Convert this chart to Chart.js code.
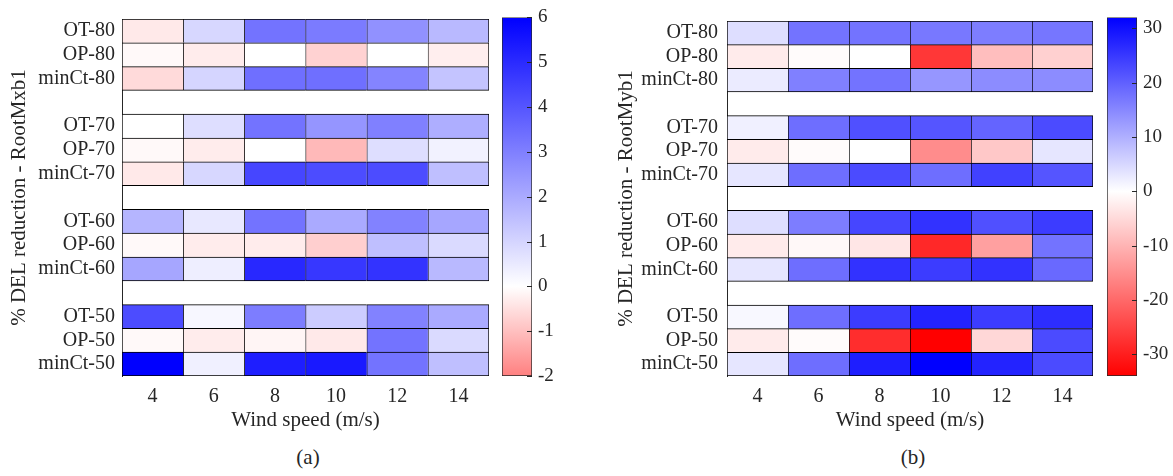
<!DOCTYPE html>
<html>
<head>
<meta charset="utf-8">
<script src="https://cdn.jsdelivr.net/npm/chart.js@4"></script>
<style>
  body { margin: 0; background: #fff; width: 1173px; height: 476px; position: relative; overflow: hidden;
         font-family: "Liberation Serif", serif; color: #262626; }
  canvas { position: absolute; top: 0; }
  .cap { position: absolute; top: 445px; width: 100px; text-align: center; font-size: 21px; }
</style>
</head>
<body>
<canvas id="hmA" width="495" height="440" style="left:0"></canvas>
<canvas id="cbA" width="80" height="440" style="left:495px"></canvas>
<canvas id="hmB" width="500" height="440" style="left:600px"></canvas>
<canvas id="cbB" width="73" height="440" style="left:1100px"></canvas>
<div class="cap" style="left:258px">(a)</div>
<div class="cap" style="left:863px">(b)</div>
<script>
const windSpeeds = [4, 6, 8, 10, 12, 14];
const rowLabels = ['OT-80', 'OP-80', 'minCt-80', 'OT-70', 'OP-70', 'minCt-70',
                   'OT-60', 'OP-60', 'minCt-60', 'OT-50', 'OP-50', 'minCt-50'];

// RootMxb1, one array per wind speed, rows in rowLabels order
const mxWs4  = [-0.35, -0.1, -0.58, 0, -0.1, -0.35, 1.75, -0.1, 2.1, 4.2, -0.1, 6.0];
const mxWs6  = [0.95, -0.3, 1.0, 0.78, -0.3, 0.95, 0.55, -0.3, 0.4, 0.2, -0.3, 0.35];
const mxWs8  = [3.3, 0, 3.4, 3.3, 0, 4.35, 3.3, -0.3, 5.05, 3.05, -0.15, 5.3];
const mxWs10 = [3.1, -0.7, 3.4, 2.5, -1.1, 4.2, 2.0, -0.75, 4.7, 1.2, -0.35, 5.4];
const mxWs12 = [2.6, 0, 2.9, 3.0, 0.78, 4.2, 2.95, 1.5, 4.8, 2.95, 3.3, 3.3];
const mxWs14 = [1.65, -0.27, 1.4, 1.9, 0.3, 1.5, 2.1, 0.87, 1.65, 2.0, 0.87, 1.5];

// RootMyb1
const myWs4  = [4.2, -2.7, 2.5, 1.9, -2.7, 3.1, 4.1, -2.7, 3.1, 0.9, -2.7, 3.1];
const myWs6  = [17.6, -0.6, 15.9, 18.2, -0.6, 18.2, 16.3, -0.9, 18.2, 18.2, -0.6, 18.2];
const myWs8  = [17.6, 0, 17.6, 22, 0, 22.6, 23.2, -3.3, 25.7, 24.5, -28, 28.2];
const myWs10 = [16.9, -26.7, 13.2, 21.3, -15.3, 18.2, 25.7, -28.7, 24.5, 27.6, -34, 32];
const myWs12 = [16.3, -8.7, 14.4, 19.4, -7.3, 23.8, 22, -12.7, 25.7, 24.5, -5.3, 27.6];
const myWs14 = [17.2, -6.3, 14.4, 22.6, 3.1, 21.3, 24.5, 17.6, 18.8, 26.4, 22.6, 22.6];

const cbTicksA = [-2, -1, 0, 1, 2, 3, 4, 5, 6];
const cbTicksB = [-30, -20, -10, 0, 10, 20, 30];
const limitsA = [-2, 6];
const limitsB = [-34, 32];
const colorScaleA = [-4, 6];
const colorScaleB = [-34, 32];

const INK = '#262626';
const FONT = 'Liberation Serif';

function cellColor(v, sc) {
    if (v >= 0) {
        let c = Math.round(255 * (1 - Math.min(v / sc[1], 1)));
        return 'rgb(' + c + ',' + c + ',255)';
    }
    let c = Math.round(255 * (1 - Math.min(v / sc[0], 1)));
    return 'rgb(255,' + c + ',' + c + ')';
}

// insert an empty category between each group of three rows
const cats = [];
rowLabels.forEach((r, i) => { if (i > 0 && i % 3 === 0) cats.push(''); cats.push(r); });
function spread(vals) {
    const out = [];
    vals.forEach((v, i) => { if (i > 0 && i % 3 === 0) out.push(null); out.push(v); });
    return out;
}

function heatmap(id, cols, sc, yTitle, yWidth, titlePad, tickPad, padRight) {
    const datasets = cols.map((vals, j) => {
        const ws = windSpeeds[j];
        const v15 = spread(vals);
        return {
            data: v15.map(v => v === null ? null : [ws - 1, ws + 1]),
            backgroundColor: v15.map(v => v === null ? 'rgba(0,0,0,0)' : cellColor(v, sc)),
            borderColor: '#000',
            borderSkipped: false,
            borderWidth: ctx => ({ top: 1, left: 1, right: j === 5 ? 1 : 0, bottom: ctx.dataIndex % 4 === 2 ? 1 : 0 }),
            grouped: false,
            barPercentage: 1,
            categoryPercentage: 1
        };
    });
    new Chart(document.getElementById(id), {
        type: 'bar',
        data: { labels: cats, datasets: datasets },
        options: {
            responsive: false,
            animation: false,
            indexAxis: 'y',
            layout: { padding: { top: 14, right: padRight, left: 0, bottom: 0 } },
            plugins: { legend: { display: false }, tooltip: { enabled: false } },
            scales: {
                x: {
                    type: 'linear', min: 3, max: 15,
                    grid: { display: false, drawTicks: false },
                    border: { display: false },
                    ticks: { padding: 9, color: INK, font: { family: FONT, size: 20 } },
                    afterBuildTicks: s => { s.ticks = windSpeeds.map(v => ({ value: v })); },
                    afterFit: s => { s.height = 64; },
                    title: { display: true, text: 'Wind speed (m/s)', color: INK,
                             font: { family: FONT, size: 21 }, padding: { top: 0, bottom: 7 } }
                },
                y: {
                    grid: { display: false, drawTicks: false },
                    border: { display: true, color: INK },
                    ticks: { padding: tickPad, color: INK, autoSkip: false, font: { family: FONT, size: 20 } },
                    afterFit: s => { s.width = yWidth; },
                    title: { display: true, text: yTitle, color: INK,
                             font: { family: FONT, size: 21 }, padding: { top: titlePad, bottom: 0 } }
                }
            }
        }
    });
}

const insideTicks = {
    id: 'insideTicks',
    afterDatasetsDraw(chart) {
        const y = chart.scales.y, a = chart.chartArea, c = chart.ctx;
        c.save();
        c.strokeStyle = INK;
        c.lineWidth = 1;
        y.ticks.forEach(t => {
            const py = Math.round(y.getPixelForValue(t.value)) + 0.5;
            c.beginPath();
            c.moveTo(a.right - 5, py);
            c.lineTo(a.right, py);
            c.stroke();
        });
        c.restore();
    }
};

function colorbar(id, lim, sc, ticks, yWidth) {
    new Chart(document.getElementById(id), {
        type: 'bar',
        data: {
            labels: [''],
            datasets: [{
                data: [lim],
                backgroundColor: ctx => {
                    const ch = ctx.chart;
                    if (!ch.chartArea) return null;
                    const y = ch.scales.y;
                    const g = ch.ctx.createLinearGradient(0, y.getPixelForValue(lim[0]), 0, y.getPixelForValue(lim[1]));
                    g.addColorStop(0, cellColor(lim[0], sc));
                    g.addColorStop(-lim[0] / (lim[1] - lim[0]), '#fff');
                    g.addColorStop(1, cellColor(lim[1], sc));
                    return g;
                },
                borderColor: INK,
                borderWidth: 1,
                borderSkipped: false,
                barPercentage: 1,
                categoryPercentage: 1
            }]
        },
        options: {
            responsive: false,
            animation: false,
            layout: { padding: { left: 7, top: 14, bottom: 64, right: 0 } },
            plugins: { legend: { display: false }, tooltip: { enabled: false } },
            scales: {
                x: { display: false },
                y: {
                    position: 'right', min: lim[0], max: lim[1],
                    grid: { display: false, drawTicks: false },
                    border: { display: false },
                    ticks: { padding: 6, color: INK, font: { family: FONT, size: 19 } },
                    afterBuildTicks: s => { s.ticks = ticks.map(v => ({ value: v })); },
                    afterFit: s => { s.width = yWidth; }
                }
            }
        },
        plugins: [insideTicks]
    });
}

heatmap('hmA', [mxWs4, mxWs6, mxWs8, mxWs10, mxWs12, mxWs14], colorScaleA,
        '% DEL reduction - RootMxb1', 122, 7, 7, 6);
colorbar('cbA', limitsA, colorScaleA, cbTicksA, 43);
heatmap('hmB', [myWs4, myWs6, myWs8, myWs10, myWs12, myWs14], colorScaleB,
        '% DEL reduction - RootMyb1', 127, 14, 9, 7);
colorbar('cbB', limitsB, colorScaleB, cbTicksB, 36);
</script>
</body>
</html>
